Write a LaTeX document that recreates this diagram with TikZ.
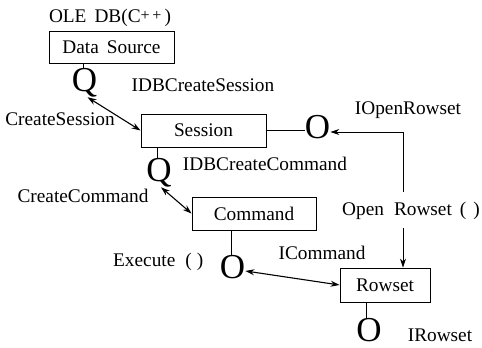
\documentclass[tikz,border=0pt]{standalone}
\usepackage{fontspec}
\setmainfont{Liberation Serif}
\usetikzlibrary{calc,arrows.meta}
\begin{document}
\begin{tikzpicture}[x=1pt,y=-1pt,
  lbl/.style={font=\fontsize{19.3}{21}\selectfont,inner sep=0pt},
  box/.style={draw,line width=0.9pt,font=\fontsize{19.3}{21}\selectfont,inner sep=0pt},
  ifc/.style={font=\fontsize{35}{37}\selectfont,inner sep=0pt,anchor=north},
  con/.style={line width=0.9pt},
  arr/.style={line width=1.1pt,{Stealth[length=9pt,width=6pt]}-{Stealth[length=9pt,width=6pt]}},
  sarr/.style={line width=0.9pt,-{Stealth[length=9pt,width=6pt]}}]
\useasboundingbox (0,0) rectangle (482,348);
% boxes
\node[box,minimum width=125pt,minimum height=32pt] (ds) at (111.5,47) {Data\hspace{8pt}Source};
\node[box,minimum width=125pt,minimum height=33pt] (ses) at (203.5,130.5) {Session};
\node[box,minimum width=124pt,minimum height=33pt] (cmd) at (254,213.5) {Command};
\node[box,minimum width=90pt,minimum height=34pt] (rs) at (385,285) {Rowset};
% labels
\node[lbl] (ole) at (110,18) {OLE\hspace{8pt}DB(C\raisebox{2pt}{\fontsize{16}{16}\selectfont +\,+}\,)};
\node[lbl] (l1) at (203,85) {IDBCreateSession};
\node[lbl] (l2) at (60,119) {CreateSession};
\node[lbl] (l3) at (408,110) {IOpenRowset};
\node[lbl] (l4) at (265,164) {IDBCreateCommand};
\node[lbl] (l5) at (83,196) {CreateCommand};
\node[lbl,anchor=west] (l6) at (342,211) {Open\hspace{10pt}Rowset\hspace{8pt}(\hspace{7pt})};
\node[lbl,anchor=west] (l7) at (113,262) {Execute\hspace{10pt}(\hspace{5pt})};
\node[lbl] (l8) at (322,253) {ICommand};
\node[lbl] (l9) at (440,335) {IRowset};
% interface symbols
\node[ifc] (qds) at (84.5,68) {Q};
\node[ifc] (qses) at (159,158) {Q};
\node[ifc] (osr) at (317.5,115) {O};
\node[ifc] (ocmd) at (232.5,255) {O};
\node[ifc] (ors) at (369,318) {O};
% connectors
\draw[con] (ds.south -| 83,0) -- (83,0 |- qds.north);
\draw[con] (ses.south -| 157,0) -- (157,0 |- qses.north);
\draw[con] (cmd.south -| 231,0) -- (231,0 |- ocmd.north);
\draw[con] (rs.south -| 366,0) -- (366,0 |- ors.north);
\draw[con] (ses.east) -- (ses.east -| osr.west);
\coordinate (corner) at (403,132);
\coordinate (vend) at (403,192);
\coordinate (vstart) at (403,228);
\draw[sarr] (vend) -- (corner) -- (corner -| osr.east);
\draw[sarr] (vstart) -- (vstart |- rs.north);
\draw[arr] ($(qds.south)+(3,0)$) -- (ses.west);
\draw[arr] ($(qses.south)+(2,0)$) -- (cmd.west);
\draw[arr] ($(ocmd.east)+(0,4)$) -- (rs.west);
\end{tikzpicture}
\end{document}
